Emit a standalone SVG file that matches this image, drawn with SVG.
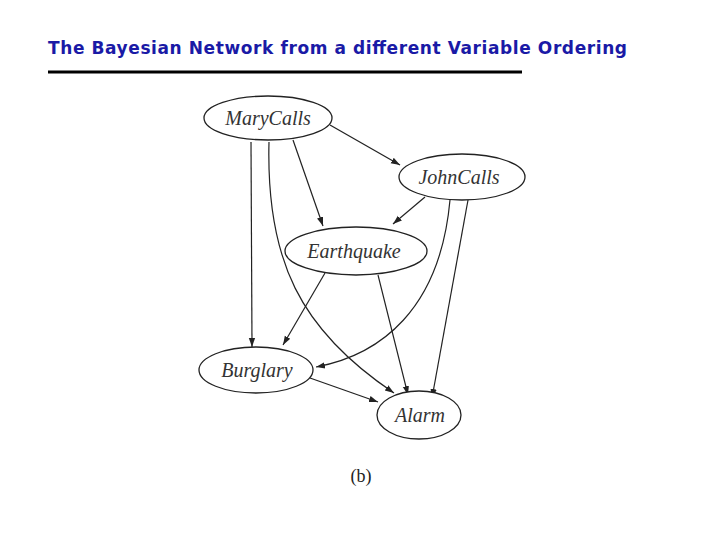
<svg xmlns="http://www.w3.org/2000/svg" width="720" height="540" viewBox="0 0 720 540">
<style>
.n{fill:#fff;stroke:#222;stroke-width:1.3}
.t{font-family:"Liberation Serif",serif;font-style:italic;font-size:20px;fill:#333;text-anchor:middle}
.e{fill:none;stroke:#222;stroke-width:1.2;marker-end:url(#a)}
</style>
<defs><marker id="a" viewBox="0 0 10 10" refX="10" refY="5" markerWidth="9" markerHeight="9" markerUnits="userSpaceOnUse" orient="auto"><path d="M0,1.5L10,5L0,8.5z" fill="#222"/></marker></defs>
<rect width="720" height="540" fill="#fff"/>
<text x="48" y="54" font-family="DejaVu Sans,sans-serif" font-weight="bold" font-size="17" fill="#1a1aa6" textLength="579" lengthAdjust="spacing">The Bayesian Network from a different Variable Ordering</text>
<line x1="48" y1="72" x2="522" y2="72" stroke="#000" stroke-width="3"/>
<g id="edges">
<path class="e" d="M330,125L400,165"/>
<path class="e" d="M251,142L252,347"/>
<path class="e" d="M269,142C266,260 300,330 394,393"/>
<path class="e" d="M293,140L323,226"/>
<path class="e" d="M425,197L393,224"/>
<path class="e" d="M450,200C440,310 380,355 316,367"/>
<path class="e" d="M468,200L432,398"/>
<path class="e" d="M325,273L283,345"/>
<path class="e" d="M378,275L408,395"/>
<path class="e" d="M310,378L378,402"/>
</g>
<g id="MaryCalls"><ellipse class="n" cx="268" cy="118" rx="64" ry="22"/><text class="t" x="268" y="125">MaryCalls</text></g>
<g id="JohnCalls"><ellipse class="n" cx="462" cy="177" rx="63" ry="23"/><text class="t" x="459" y="184">JohnCalls</text></g>
<g id="Earthquake"><ellipse class="n" cx="356" cy="251" rx="71" ry="24"/><text class="t" x="354" y="258">Earthquake</text></g>
<g id="Burglary"><ellipse class="n" cx="256" cy="370" rx="57" ry="23"/><text class="t" x="257" y="377">Burglary</text></g>
<g id="Alarm"><ellipse class="n" cx="419" cy="415" rx="42" ry="24"/><text class="t" x="420" y="422">Alarm</text></g>
<text x="361" y="482" font-family="Liberation Serif,serif" font-size="18" fill="#222" text-anchor="middle">(b)</text>
</svg>
